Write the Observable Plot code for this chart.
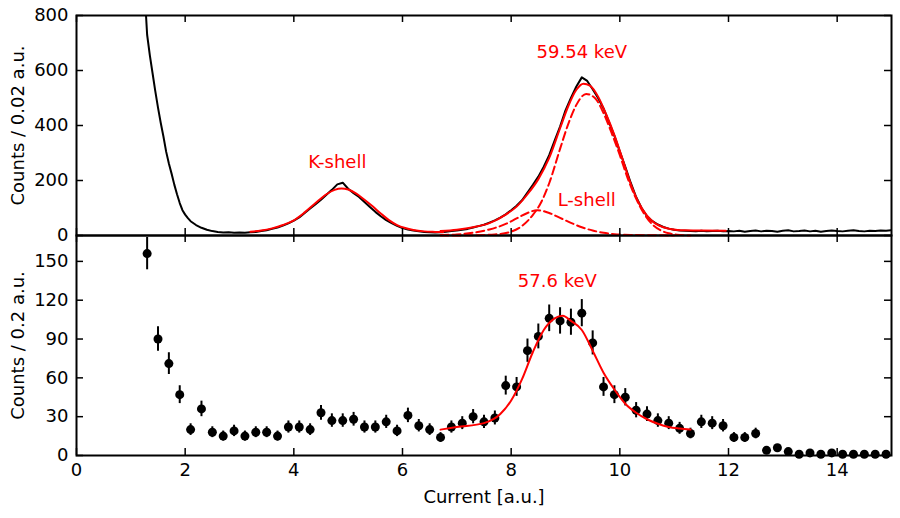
<!DOCTYPE html>
<html>
<head>
<meta charset="utf-8">
<script src="https://cdn.jsdelivr.net/npm/d3@7"></script>
<script src="https://cdn.jsdelivr.net/npm/@observablehq/plot@0.6"></script>
<style>
  body { margin: 0; background: #fff; }
  #chart { position: relative; width: 900px; height: 518px; font-family: "DejaVu Sans", sans-serif; }
  #chart svg { position: absolute; left: 0; overflow: visible; }
</style>
</head>
<body>
<div id="chart"></div>
<script>
// ---- Axis ticks ----
const xTicks = [0, 2, 4, 6, 8, 10, 12, 14];
const topYTicks = [0, 200, 400, 600, 800];
const bottomYTicks = [0, 30, 60, 90, 120, 150];

// ---- Upper panel: fine-binned spectrum (counts per 0.02 a.u.) ----
const specCenters = [
  1.20, 1.25, 1.30, 1.35, 1.40, 1.45, 1.50, 1.55, 1.60, 1.65, 1.70, 1.75, 1.80, 1.85, 1.90, 1.95, 2.00, 2.05, 2.10,
  2.2, 2.3, 2.4, 2.5, 2.6, 2.7, 2.8, 2.9,
  3.0, 3.1, 3.2, 3.3, 3.4, 3.5, 3.6, 3.7, 3.8, 3.9,
  4.0, 4.1, 4.2, 4.3, 4.4, 4.5, 4.6, 4.7, 4.8, 4.9,
  5.0, 5.1, 5.2, 5.3, 5.4, 5.5, 5.6, 5.7, 5.8, 5.9,
  6.0, 6.1, 6.2, 6.3, 6.4, 6.5, 6.6, 6.7, 6.8, 6.9,
  7.0, 7.1, 7.2, 7.3, 7.4, 7.5, 7.6, 7.7, 7.8, 7.9,
  8.0, 8.1, 8.2, 8.3, 8.4, 8.5, 8.6, 8.7, 8.8, 8.9,
  9.0, 9.1, 9.2, 9.3, 9.4, 9.5, 9.6, 9.7, 9.8, 9.9,
  10.0, 10.1, 10.2, 10.3, 10.4, 10.5, 10.6, 10.7, 10.8, 10.9,
  11.0, 11.1, 11.2, 11.3, 11.4, 11.5, 11.6, 11.7, 11.8, 11.9,
  12.0, 12.1, 12.2, 12.3, 12.4, 12.5, 12.6, 12.7, 12.8, 12.9,
  13.0, 13.1, 13.2, 13.3, 13.4, 13.5, 13.6, 13.7, 13.8, 13.9,
  14.0, 14.1, 14.2, 14.3, 14.4, 14.5, 14.6, 14.7, 14.8, 14.9,
  15.0
];
const specCounts = [
  1000, 900, 730, 655, 590, 525, 465, 410, 360, 305, 262, 225, 185, 150, 118, 92, 76, 63, 52,
  38, 28, 21, 16, 13, 11, 12, 10,
  11, 10, 12, 13, 16, 19, 24, 29, 36, 44,
  54, 66, 82, 98, 114, 130, 148, 166, 186, 192,
  170, 154, 140, 122, 104, 86, 70, 56, 45, 35,
  27, 22, 18, 15, 13, 12, 11, 12, 14, 16,
  18, 21, 24, 29, 34, 39, 47, 55, 65, 77,
  92, 108, 128, 156, 184, 214, 250, 292, 345, 396,
  455, 500, 542, 575, 562, 532, 500, 462, 412, 362,
  305, 250, 192, 140, 100, 70, 52, 40, 31, 25,
  21, 18, 17, 16, 15, 17, 15, 16, 17, 15,
  16, 15, 17, 14, 16, 18, 15, 17, 16, 14,
  17, 19, 15, 16, 18, 15, 17, 14, 16, 18,
  16, 15, 17, 19, 16, 15, 17, 16, 18, 17,
  19
];

// K-shell fit (solid)
const kFitX = [3.20, 3.40, 3.60, 3.80, 4.00, 4.20, 4.40, 4.60, 4.75, 4.88, 5.00, 5.15, 5.30, 5.45, 5.60, 5.75, 5.90, 6.05, 6.20, 6.40, 6.60, 6.75];
const kFitY = [14, 18, 26, 38, 55, 84, 118, 150, 166, 171, 167, 152, 130, 106, 80, 56, 38, 27, 20, 15, 13, 12];

// Combined fit of the 59.54 keV line plus L-shell (solid)
const mainFitX = [6.70, 7.00, 7.30, 7.60, 7.90, 8.10, 8.30, 8.50, 8.70, 8.90, 9.05, 9.20, 9.33, 9.45, 9.60, 9.75, 9.90, 10.05, 10.20, 10.35, 10.50, 10.65, 10.80, 10.95, 11.20, 11.50, 11.95];
const mainFitY = [16, 21, 30, 45, 76, 105, 150, 205, 282, 390, 470, 530, 552, 545, 505, 440, 365, 278, 188, 118, 72, 44, 30, 23, 19, 18, 17];

// 59.54 keV component (dashed)
const peakCompX = [6.70, 7.30, 7.70, 8.00, 8.20, 8.40, 8.55, 8.70, 8.90, 9.05, 9.20, 9.38, 9.55, 9.70, 9.85, 10.00, 10.15, 10.30, 10.45, 10.60, 10.75, 10.90, 11.05, 11.30];
const peakCompY = [0, 1, 4, 14, 35, 75, 120, 190, 315, 405, 475, 515, 498, 445, 372, 292, 205, 134, 78, 40, 19, 8, 3, 0];

// L-shell component (dashed)
const lShellX = [6.70, 7.00, 7.30, 7.60, 7.90, 8.10, 8.30, 8.48, 8.70, 8.90, 9.10, 9.30, 9.50, 9.70, 9.90, 10.20, 10.60, 11.00];
const lShellY = [2, 4, 10, 22, 42, 62, 82, 92, 82, 64, 46, 30, 18, 10, 5, 2, 1, 0];

// ---- Lower panel: coarse-binned spectrum (counts per 0.2 a.u.) ----
const binCenters = [
  1.3, 1.5, 1.7, 1.9, 2.1, 2.3, 2.5, 2.7, 2.9, 3.1,
  3.3, 3.5, 3.7, 3.9, 4.1, 4.3, 4.5, 4.7, 4.9, 5.1,
  5.3, 5.5, 5.7, 5.9, 6.1, 6.3, 6.5, 6.7, 6.9, 7.1,
  7.3, 7.5, 7.7, 7.9, 8.1, 8.3, 8.5, 8.7, 8.9, 9.1,
  9.3, 9.5, 9.7, 9.9, 10.1, 10.3, 10.5, 10.7, 10.9, 11.1,
  11.3, 11.5, 11.7, 11.9, 12.1, 12.3, 12.5, 12.7, 12.9, 13.1,
  13.3, 13.5, 13.7, 13.9, 14.1, 14.3, 14.5, 14.7, 14.9
];
const binCounts = [
  156, 90, 71, 47, 20, 36, 18, 15, 19, 15,
  18, 18, 15, 22, 22, 20, 33, 27, 27, 28,
  22, 22, 26, 19, 31, 23, 20, 14, 22, 25,
  30, 26, 29, 54, 53, 81, 92, 106, 104, 103,
  110, 87, 53, 47, 45, 35, 32, 27, 25, 21,
  17, 26, 25, 23, 14, 14, 17, 4, 6, 3,
  1, 2, 1, 2, 1, 1, 1, 1, 1
];
const binErrors = [
  12.5, 9.5, 8.4, 6.9, 4.5, 6.0, 4.2, 3.9, 4.4, 3.9,
  4.2, 4.2, 3.9, 4.7, 4.7, 4.5, 5.7, 5.2, 5.2, 5.3,
  4.7, 4.7, 5.1, 4.4, 5.6, 4.8, 4.5, 3.7, 4.7, 5.0,
  5.5, 5.1, 5.4, 7.3, 7.3, 9.0, 9.6, 10.3, 10.2, 10.1,
  10.5, 9.3, 7.3, 6.9, 6.7, 5.9, 5.7, 5.2, 5.0, 4.6,
  4.1, 5.1, 5.0, 4.8, 3.7, 3.7, 4.1, 2.0, 2.4, 1.7,
  1.0, 1.4, 1.0, 1.4, 1.0, 1.0, 1.0, 1.0, 1.0
];

// 57.6 keV fit (solid)
const lowFitX = [6.70, 7.00, 7.50, 7.80, 8.00, 8.20, 8.40, 8.60, 8.80, 8.95, 9.10, 9.30, 9.50, 9.70, 9.90, 10.10, 10.30, 10.50, 10.70, 10.90, 11.10, 11.30];
const lowFitY = [20, 22, 25, 32, 42.5, 59, 80, 97, 106, 108, 104, 97, 81, 64, 51, 40, 33, 28, 24.5, 22, 20.8, 20];

// Annotation labels
const topLabels = [
  {x: 9.30, y: 665, text: "59.54 keV"},
  {x: 4.80, y: 266, text: "K-shell"},
  {x: 9.39, y: 130, text: "L-shell"}
];
const bottomLabels = [{x: 8.85, y: 135, text: "57.6 keV"}];

// ---- Build tables ----
const zip = (xs, ys) => xs.map((x, i) => ({x, y: ys[i]}));
const spectrum = zip(specCenters, specCounts);
const kFit = zip(kFitX, kFitY);
const mainFit = zip(mainFitX, mainFitY);
const peakComp = zip(peakCompX, peakCompY);
const lShell = zip(lShellX, lShellY);
const lowFit = zip(lowFitX, lowFitY);
const bins = binCenters.map((x, i) => ({x, y: binCounts[i], e: binErrors[i]}));

// ---- Layout ----
const W = 900, ML = 76, MR = 9;
const innerW = W - ML - MR;   // 815
const innerH = 220;
const TICK = 7;
const RED = "#ff0000";
const font = {fontFamily: "DejaVu Sans, sans-serif", fontSize: "18px", overflow: "visible", background: "transparent", color: "black"};

// Inward ticks on all four sides of a panel
function boxTicks(yTicks) {
  const s = {stroke: "black", strokeWidth: 1.5};
  return [
    Plot.tickX(xTicks, {x: d => d, insetBottom: innerH - TICK, ...s}),
    Plot.tickX(xTicks, {x: d => d, insetTop: innerH - TICK, ...s}),
    Plot.tickY(yTicks, {y: d => d, insetRight: innerW - TICK, ...s}),
    Plot.tickY(yTicks, {y: d => d, insetLeft: innerW - TICK, ...s})
  ];
}

const yTitle = (t) => Plot.text([t], {
  frameAnchor: "left", textAnchor: "middle", lineAnchor: "middle",
  text: d => d, rotate: -90, dx: -58, fontSize: 18, fill: "black"
});

const topPlot = Plot.plot({
  width: W, height: 235,
  marginLeft: ML, marginRight: MR, marginTop: 15, marginBottom: 0,
  style: font,
  x: {domain: [0, 15], axis: null},
  y: {domain: [0, 800]},
  marks: [
    Plot.line(spectrum, {x: "x", y: "y", curve: "linear", stroke: "black", strokeWidth: 2, clip: true}),
    Plot.line(kFit, {x: "x", y: "y", curve: "monotone-x", stroke: RED, strokeWidth: 2}),
    Plot.line(peakComp, {x: "x", y: "y", curve: "monotone-x", stroke: RED, strokeWidth: 2, strokeDasharray: "8,4"}),
    Plot.line(lShell, {x: "x", y: "y", curve: "monotone-x", stroke: RED, strokeWidth: 2, strokeDasharray: "8,4"}),
    Plot.line(mainFit, {x: "x", y: "y", curve: "monotone-x", stroke: RED, strokeWidth: 2}),
    Plot.text(topLabels, {x: "x", y: "y", text: "text", fill: RED, fontSize: 18}),
    ...boxTicks(topYTicks),
    Plot.frame({stroke: "black", strokeWidth: 2}),
    Plot.axisY(topYTicks, {tickSize: 0, tickPadding: 8, label: null, fontSize: 18}),
    yTitle("Counts / 0.02 a.u.")
  ]
});
topPlot.style.top = "0px";

const bottomPlot = Plot.plot({
  width: W, height: 283,
  marginLeft: ML, marginRight: MR, marginTop: 0, marginBottom: 63,
  style: font,
  x: {domain: [0, 15]},
  y: {domain: [0, 170]},
  marks: [
    Plot.ruleX(bins, {x: "x", y1: d => d.y - d.e, y2: d => d.y + d.e, stroke: "black", strokeWidth: 2}),
    Plot.dot(bins, {x: "x", y: "y", r: 4.5, fill: "black", stroke: null}),
    Plot.line(lowFit, {x: "x", y: "y", curve: "monotone-x", stroke: RED, strokeWidth: 2}),
    Plot.text(bottomLabels, {x: "x", y: "y", text: "text", fill: RED, fontSize: 18}),
    ...boxTicks(bottomYTicks),
    Plot.frame({stroke: "black", strokeWidth: 2}),
    Plot.axisY(bottomYTicks, {tickSize: 0, tickPadding: 8, label: null, fontSize: 18}),
    Plot.axisX(xTicks, {tickSize: 0, tickPadding: 8, label: null, fontSize: 18}),
    yTitle("Counts / 0.2 a.u."),
    Plot.text(["Current [a.u.]"], {frameAnchor: "bottom", lineAnchor: "middle", text: d => d, dy: 42, fontSize: 18, fill: "black"})
  ]
});
bottomPlot.style.top = "235px";

const chart = document.getElementById("chart");
chart.append(bottomPlot, topPlot);
</script>
</body>
</html>
